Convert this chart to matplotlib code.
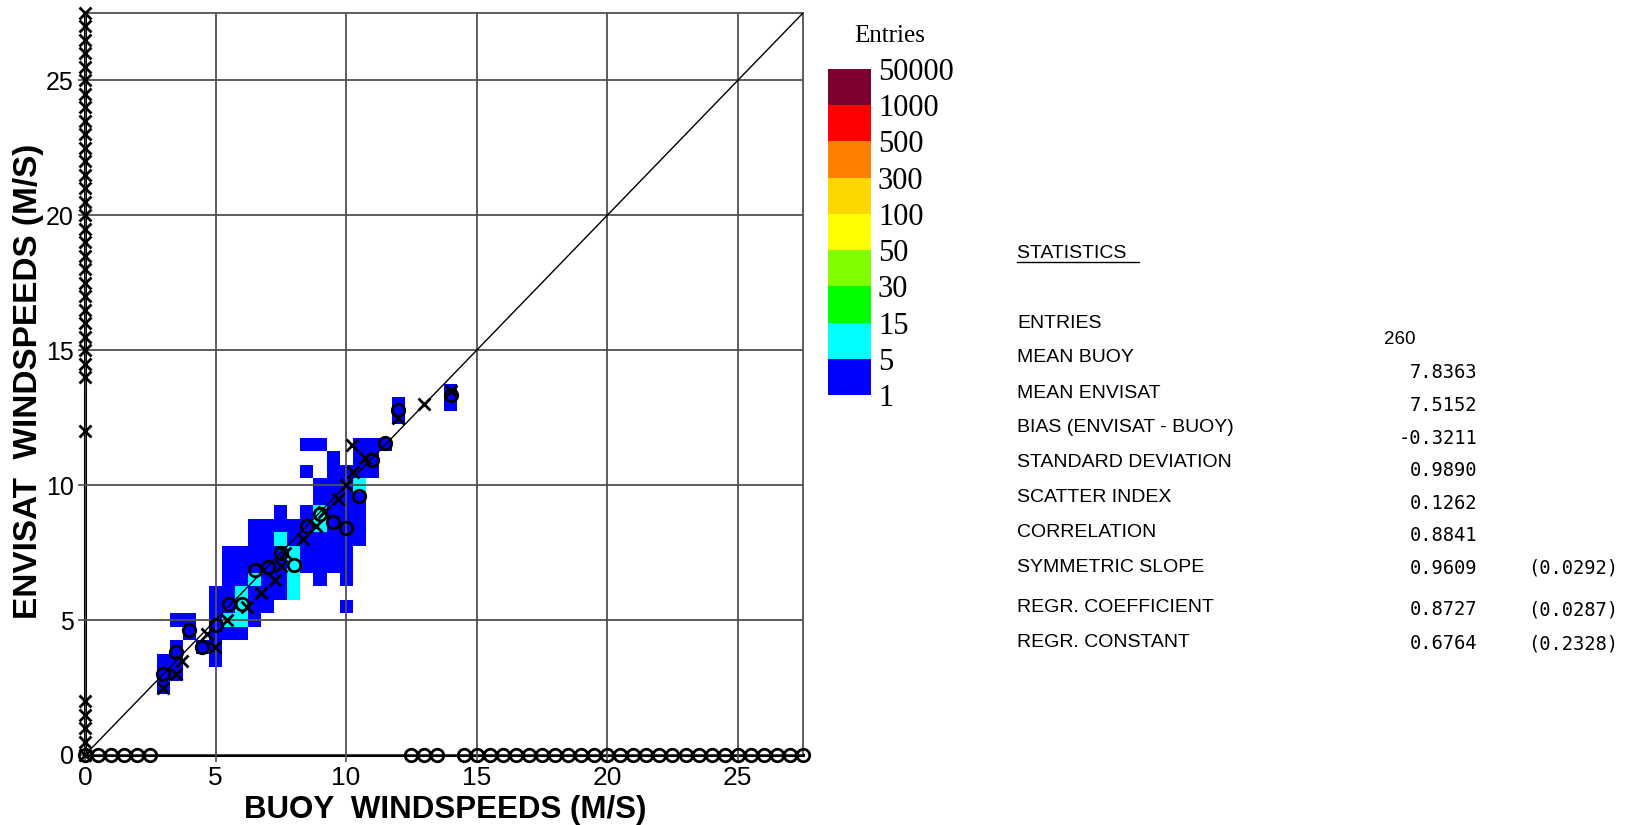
import numpy as np
import matplotlib
matplotlib.use('Agg')
import matplotlib.pyplot as plt
from matplotlib.colors import ListedColormap, BoundaryNorm
from matplotlib import font_manager
from matplotlib.lines import Line2D

# ---- data ----
# 2D histogram cells: buoy speed (x), envisat speed (y), entries
cell_x = [14,
          12, 14,
          12,
          8.5, 9, 10.5, 11, 11.5,
          9.5, 10.5, 11,
          8.5, 9.5, 10, 10.5, 11,
          9, 9.5, 10, 10.5,
          9, 9.5, 10, 10.5,
          7.5, 8.5, 9, 9.5, 10, 10.5,
          6.5, 7, 7.5, 8, 8.5, 9, 9.5, 10, 10.5,
          6.5, 7, 7.5, 8, 8.5, 9, 9.5, 10, 10.5,
          5.5, 6, 6.5, 7, 7.5, 8, 8.5, 9, 9.5, 10,
          5.5, 6, 6.5, 7, 7.5, 8, 8.5, 9, 9.5, 10,
          5.5, 6, 6.5, 7, 7.5, 8, 9, 10,
          5, 5.5, 6, 6.5, 7, 7.5, 8,
          5, 5.5, 6, 6.5, 7, 10,
          3.5, 4, 5, 5.5, 6, 6.5,
          4, 5, 5.5, 6,
          3.5, 4.5, 5,
          3, 3.5, 5,
          3, 3.5,
          3]
cell_y = [13.5,
          13, 13,
          12.5,
          11.5, 11.5, 11.5, 11.5, 11.5,
          11, 11, 11,
          10.5, 10.5, 10.5, 10.5, 10.5,
          10, 10, 10, 10,
          9.5, 9.5, 9.5, 9.5,
          9, 9, 9, 9, 9, 9,
          8.5, 8.5, 8.5, 8.5, 8.5, 8.5, 8.5, 8.5, 8.5,
          8, 8, 8, 8, 8, 8, 8, 8, 8,
          7.5, 7.5, 7.5, 7.5, 7.5, 7.5, 7.5, 7.5, 7.5, 7.5,
          7, 7, 7, 7, 7, 7, 7, 7, 7, 7,
          6.5, 6.5, 6.5, 6.5, 6.5, 6.5, 6.5, 6.5,
          6, 6, 6, 6, 6, 6, 6,
          5.5, 5.5, 5.5, 5.5, 5.5, 5.5,
          5, 5, 5, 5, 5, 5,
          4.5, 4.5, 4.5, 4.5,
          4, 4, 4,
          3.5, 3.5, 3.5,
          3, 3,
          2.5]
cell_n = [1,
          1, 1,
          1,
          1, 1, 1, 2, 1,
          1, 2, 2,
          1, 2, 2, 2, 1,
          2, 2, 3, 6,
          2, 3, 3, 2,
          1, 2, 6, 3, 3, 2,
          2, 2, 3, 3, 3, 6, 3, 2, 1,
          1, 2, 6, 3, 3, 3, 2, 2, 1,
          1, 2, 3, 3, 3, 6, 3, 2, 2, 1,
          2, 3, 3, 3, 3, 6, 3, 2, 2, 1,
          2, 3, 6, 3, 3, 6, 1, 1,
          1, 3, 6, 3, 3, 2, 5,
          2, 3, 6, 3, 2, 1,
          1, 2, 2, 6, 6, 2,
          2, 2, 3, 2,
          2, 2, 2,
          1, 2, 1,
          2, 2,
          1]

# envisat bins: mean buoy speed (crosses)
row_y = [2.5, 3, 3.5, 4, 4.5, 5, 5.5, 6, 6.5, 7, 7.5, 8, 8.5, 9, 9.5,
         10, 10.5, 11, 11.5, 12.5, 13, 13.5]
row_mean_buoy = [3.0, 3.5, 3.7, 4.98, 4.66, 5.45, 6.2, 6.75, 7.28, 7.5, 7.65,
                 8.36, 8.85, 9.15, 9.7, 10.0, 10.28, 10.73, 10.22, 12.0, 13.0, 14.0]
empty_rows = [0, 0.5, 1, 1.5, 2, 12, 14, 14.5, 15, 15.5, 16, 16.5, 17, 17.5,
              18, 18.5, 19, 19.5, 20, 20.5, 21, 21.5, 22, 22.5, 23, 23.5,
              24, 24.5, 25, 25.5, 26, 26.5, 27, 27.5]

# buoy bins: mean envisat speed (circles)
col_x = [3, 3.5, 4, 4.5, 5, 5.5, 6, 6.5, 7, 7.5, 8, 8.5, 9, 9.5, 10,
         10.5, 11, 11.5, 12, 14]
col_mean_envisat = [3.0, 3.8, 4.63, 4.0, 4.8, 5.6, 5.6, 6.85, 6.97, 7.5, 7.04,
                    8.5, 8.95, 8.64, 8.4, 9.6, 10.93, 11.55, 12.78, 13.33]
empty_cols = [0, 0.5, 1, 1.5, 2, 2.5, 12.5, 13, 13.5, 14.5, 15, 15.5, 16,
              16.5, 17, 17.5, 18, 18.5, 19, 19.5, 20, 20.5, 21, 21.5, 22,
              22.5, 23, 23.5, 24, 24.5, 25, 25.5, 26, 26.5, 27, 27.5]

levels = [1, 5, 15, 30, 50, 100, 300, 500, 1000, 50000]
level_colors = ['#0000ff', '#00ffff', '#00ff00', '#80ff00', '#ffff00',
                '#ffd700', '#ff8000', '#ff0000', '#7d0030']

stat_names = ['ENTRIES', 'MEAN BUOY', 'MEAN ENVISAT', 'BIAS (ENVISAT - BUOY)',
              'STANDARD DEVIATION', 'SCATTER INDEX', 'CORRELATION',
              'SYMMETRIC SLOPE', 'REGR. COEFFICIENT', 'REGR. CONSTANT']
stat_values = ['7.8363', '7.5152', '-0.3211', '0.9890', '0.1262', '0.8841',
               '0.9609', '0.8727', '0.6764']
stat_errors = ['(0.0292)', '(0.0287)', '(0.2328)']
n_entries = '260'

# ---- fonts ----
installed = {f.name for f in font_manager.fontManager.ttflist}
narrow = 'Liberation Sans Narrow' if 'Liberation Sans Narrow' in installed else None
sans = 'Liberation Sans'
serif = 'Liberation Serif'

W, H = 1628, 825
fig = plt.figure(figsize=(W / 100, H / 100), dpi=100)
fig.set_facecolor('w')


def fx(px):
    return px / W


def fy(py):
    return 1 - py / H


ax = fig.add_axes([fx(85), fy(755), fx(803) - fx(85), fy(13) - fy(755)])

cmap = ListedColormap(level_colors)
norm = BoundaryNorm(levels, cmap.N)

edges = np.arange(-0.25, 27.76, 0.5)
hist, _, _ = np.histogram2d(cell_x, cell_y, bins=[edges, edges], weights=cell_n)
hist = np.ma.masked_equal(hist, 0)
mesh = ax.pcolormesh(edges, edges, hist.T, cmap=cmap, norm=norm, zorder=1)

ax.set_xlim(0, 27.5)
ax.set_ylim(0, 27.5)
ax.set_xticks([0, 5, 10, 15, 20, 25])
ax.set_yticks([0, 5, 10, 15, 20, 25])
ax.grid(True, color='#505050', linewidth=1.3, zorder=2)
ax.set_axisbelow(False)
for side in ['top', 'right']:
    ax.spines[side].set_color('#505050')
    ax.spines[side].set_linewidth(1.3)
for side in ['left', 'bottom']:
    ax.spines[side].set_color('k')
    ax.spines[side].set_linewidth(2.2)
ax.tick_params(length=5, width=1.2, color='#505050', pad=3)
for lab in ax.get_xticklabels():
    lab.set_fontfamily(narrow or sans)
    lab.set_fontsize(21 if narrow else 19)
for lab in ax.get_yticklabels():
    lab.set_fontfamily(sans)
    lab.set_fontsize(18)

ax.plot([0, 27.5], [0, 27.5], color='k', linewidth=1.0, zorder=3)

mk = dict(linestyle='none', color='k', markersize=9, markeredgewidth=2.0,
          clip_on=False, zorder=4)
ax.plot(row_mean_buoy, row_y, marker='x', **mk)
ax.plot(np.zeros(len(empty_rows)), empty_rows, marker='x', **mk)
ax.plot(col_x, col_mean_envisat, marker='o', markerfacecolor='none', **mk)
ax.plot(empty_cols, np.zeros(len(empty_cols)), marker='o', markerfacecolor='none', **mk)

fig.text(fx(445), fy(810), 'BUOY  WINDSPEEDS (M/S)', ha='center', va='center',
         fontfamily=narrow or sans, fontweight='bold', fontsize=26 if narrow else 22.5)
fig.text(fx(29), fy(381), 'ENVISAT  WINDSPEEDS (M/S)', ha='center', va='center',
         rotation=90, fontfamily=sans, fontweight='bold', fontsize=24)

# colour key
cax = fig.add_axes([fx(828), fy(395), fx(871) - fx(828), fy(69) - fy(395)])
cb = fig.colorbar(mesh, cax=cax, ticks=levels, spacing='uniform')
cb.outline.set_visible(False)
cax.tick_params(length=0, pad=5)
cax.set_yticklabels([str(v) for v in levels])
for lab in cax.get_yticklabels():
    lab.set_fontfamily(serif)
    lab.set_fontsize(22)
fig.text(fx(890), fy(36), 'Entries', ha='center', va='center',
         fontfamily=serif, fontsize=18)

# statistics block
fig.text(fx(1017), fy(253), 'STATISTICS ', ha='left', va='center',
         fontfamily=sans, fontsize=14)
fig.add_artist(Line2D([fx(1017), fx(1139)], [fy(262), fy(262)], color='k', linewidth=1.0))
name_y = [323, 358, 393.5, 428, 463, 498, 532.6, 568, 607.4, 642.7]
value_y = [339.5, 372, 405, 438, 470.3, 503.6, 535.8, 568, 609.5, 643.7]
for name, py in zip(stat_names, name_y):
    fig.text(fx(1017), fy(py), name, ha='left', va='center',
             fontfamily=sans, fontsize=14)
fig.text(fx(1384), fy(value_y[0]), n_entries, ha='left', va='center',
         fontfamily=sans, fontsize=13.5)
for val, py in zip(stat_values, value_y[1:]):
    fig.text(fx(1477), fy(py), val, ha='right', va='center',
             fontfamily='DejaVu Sans Mono', fontsize=13.5)
for err, py in zip(stat_errors, value_y[-3:]):
    fig.text(fx(1528), fy(py), err, ha='left', va='center',
             fontfamily='DejaVu Sans Mono', fontsize=13.5)

fig.savefig('out.png', dpi=100)
